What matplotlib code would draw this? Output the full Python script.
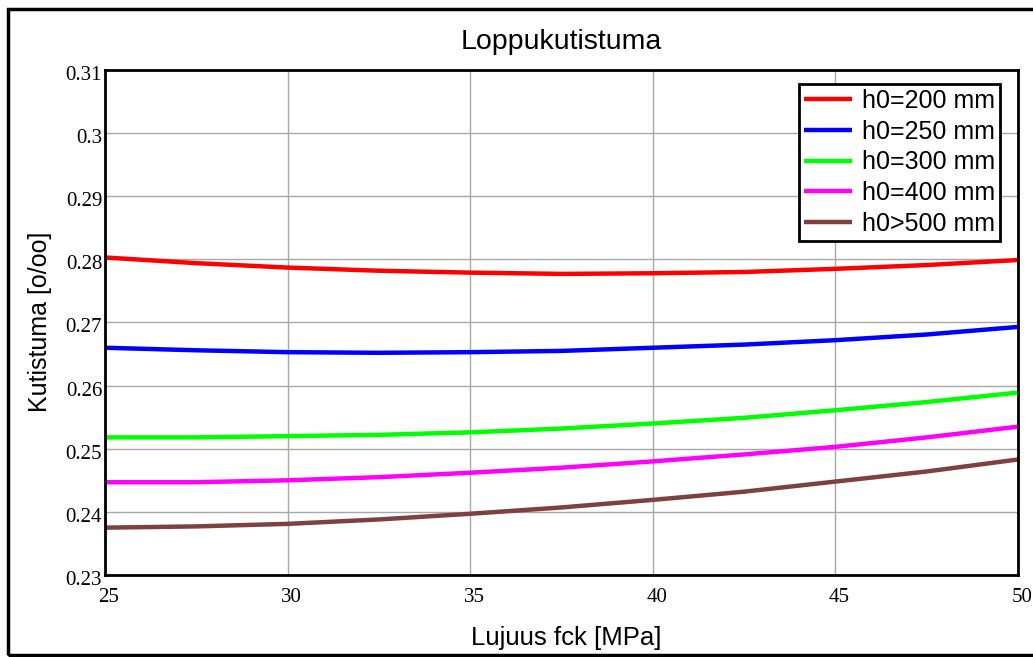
import matplotlib
matplotlib.use('Agg')
import matplotlib.pyplot as plt
import matplotlib.transforms as mtransforms
from matplotlib.patches import Rectangle

fck = [25, 27.5, 30, 32.5, 35, 37.5, 40, 42.5, 45, 47.5, 50]

h200 = [0.2803, 0.2794, 0.2787, 0.2782, 0.2779, 0.2777, 0.2778, 0.2780, 0.2785, 0.2791, 0.2799]
h250 = [0.2660, 0.2656, 0.2653, 0.2652, 0.2653, 0.2655, 0.2660, 0.2665, 0.2672, 0.2681, 0.2693]
h300 = [0.2518, 0.2518, 0.2520, 0.2522, 0.2526, 0.2532, 0.2540, 0.2549, 0.2561, 0.2574, 0.2589]
h400 = [0.2447, 0.2447, 0.2450, 0.2455, 0.2462, 0.2470, 0.2480, 0.2491, 0.2503, 0.2518, 0.2535]
h500 = [0.2375, 0.2377, 0.2381, 0.2388, 0.2397, 0.2407, 0.2419, 0.2432, 0.2448, 0.2464, 0.2483]

labels = ['h0=200 mm', 'h0=250 mm', 'h0=300 mm', 'h0=400 mm', 'h0>500 mm']
colors = ['#ff0000', '#0000ff', '#00ff00', '#ff00ff', '#804040']

xticks = [25, 30, 35, 40, 45, 50]
yticks = [0.23, 0.24, 0.25, 0.26, 0.27, 0.28, 0.29, 0.3, 0.31]
yticklabels = ['0.23', '0.24', '0.25', '0.26', '0.27', '0.28', '0.29', '0.3', '0.31']

sans = 'Liberation Sans'
serif = 'Liberation Serif'

fig = plt.figure(figsize=(10.33, 6.57), dpi=100)
ax = fig.add_axes([105 / 1033, 1 - 575 / 657, 913 / 1033, 505 / 657])

for ys, lab, c in zip([h200, h250, h300, h400, h500], labels, colors):
    ax.plot(fck, ys, color=c, lw=3.2, label=lab, solid_capstyle='butt')

ax.set_xlim(25, 50)
ax.set_ylim(0.23, 0.31)
ax.set_xticks(xticks)
ax.set_xticklabels([str(t) for t in xticks], fontfamily=serif, fontsize=15)
ax.set_yticks(yticks)
ax.set_yticklabels(yticklabels, fontfamily=serif, fontsize=15)
ax.tick_params(length=0)
ax.tick_params(axis='x', pad=9)
ax.tick_params(axis='y', pad=2)
shift = mtransforms.ScaledTranslation(4 / 100, 0, fig.dpi_scale_trans)
for t in ax.get_xticklabels():
    t.set_transform(t.get_transform() + shift)
shift_y = mtransforms.ScaledTranslation(0, -3 / 100, fig.dpi_scale_trans)
for t in ax.get_yticklabels():
    t.set_transform(t.get_transform() + shift_y)
ax.grid(True, color='#a8a8a8', lw=1)
ax.set_axisbelow(True)
for s in ax.spines.values():
    s.set_linewidth(2)
    s.set_color('black')

fig.text(561 / 1033, 1 - 42 / 657, 'Loppukutistuma', ha='center', va='center',
         fontfamily=sans, fontsize=20.5)
fig.text(40 / 1033, 1 - 322 / 657, 'Kutistuma [o/oo]', ha='center', va='center',
         rotation=90, fontfamily=sans, fontsize=18)
fig.text(566 / 1033, 1 - 638 / 657, 'Lujuus fck [MPa]', ha='center', va='center',
         fontfamily=sans, fontsize=18.5)

leg = ax.legend(loc='upper right', bbox_to_anchor=(0.9803, 0.9723), borderaxespad=0,
                prop={'family': sans, 'size': 18}, handlelength=1.9, handletextpad=0.4,
                borderpad=0.2, labelspacing=0.27, fancybox=False, framealpha=1,
                edgecolor='black')
leg.get_frame().set_linewidth(2)

fig.patches.append(Rectangle((8 / 1033, 2 / 657), 1.5, 1 - 11 / 657, transform=fig.transFigure,
                             fill=False, edgecolor='black', lw=2.5))

fig.savefig('out.png', dpi=100)
